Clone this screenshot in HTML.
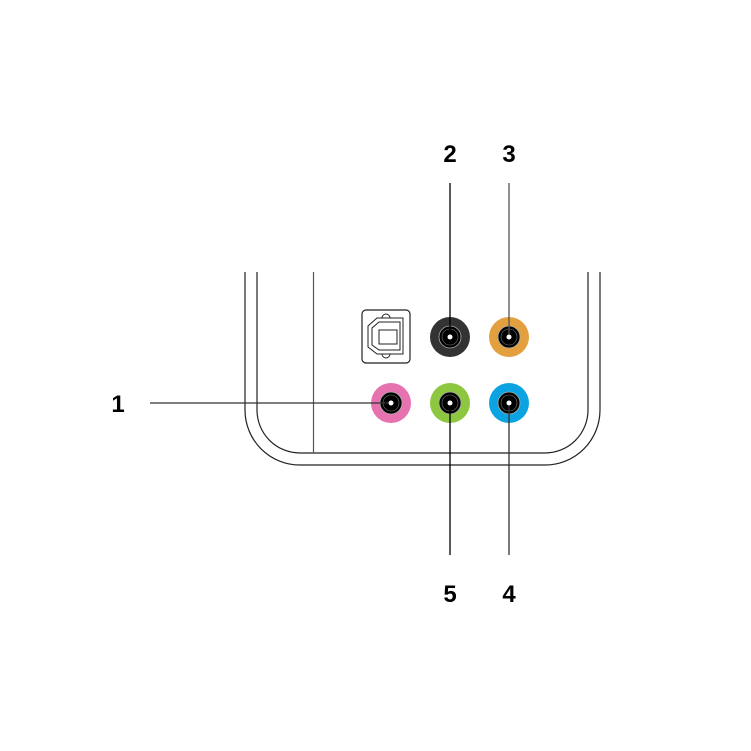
<!DOCTYPE html>
<html><head><style>html,body{margin:0;padding:0;background:#fff}svg{display:block}</style></head>
<body>
<svg width="751" height="751" viewBox="0 0 751 751" xmlns="http://www.w3.org/2000/svg">
<g fill="none" stroke="#222" stroke-width="1.2">
<path d="M245 272 V410 A55 55 0 0 0 300 465 H545 A55 55 0 0 0 600 410 V272"/>
<path d="M257 272 V410 A43 43 0 0 0 300 453 H545 A43 43 0 0 0 588 410 V272"/>
<line x1="313.5" y1="272" x2="313.5" y2="453" stroke="#555"/>
<rect x="362" y="310" width="48" height="53" rx="4"/>
<path d="M368 340 V326 L377 318 H403 V354 H377 L368 347 Z" stroke-width="1"/>
<path d="M372 342 V328 L379 322 H400 V350 H379 L372 345 Z" stroke-width="1"/>
<rect x="379" y="330" width="18" height="14" stroke-width="1"/>
<path d="M382 318 a4 4 0 0 1 8 0 M382 354 a4 4 0 0 0 8 0" stroke-width="1"/>
</g>
<g>
<circle cx="450" cy="337" r="20" fill="#333"/>
<circle cx="509" cy="337" r="20" fill="#e49f3e"/>
<circle cx="391" cy="403" r="20" fill="#e673b0"/>
<circle cx="450" cy="403" r="20" fill="#8dc63f"/>
<circle cx="509" cy="403" r="20" fill="#0ba3e2"/>
</g>
<g fill="#000" stroke="#aaa" stroke-width="0.8">
<circle cx="450" cy="337" r="11"/><circle cx="509" cy="337" r="11"/>
<circle cx="391" cy="403" r="11"/><circle cx="450" cy="403" r="11"/><circle cx="509" cy="403" r="11"/>
</g>
<g fill="none" stroke="#777" stroke-width="0.6">
<circle cx="450" cy="337" r="8"/><circle cx="509" cy="337" r="8"/>
<circle cx="391" cy="403" r="8"/><circle cx="450" cy="403" r="8"/><circle cx="509" cy="403" r="8"/>
</g>
<g stroke="#000" stroke-width="1.3">
<line x1="450" y1="183" x2="450" y2="334"/>
<line x1="509" y1="183" x2="509" y2="334" stroke="#555"/>
<line x1="150" y1="403" x2="388" y2="403" stroke="#333"/>
<line x1="450" y1="406" x2="450" y2="555"/>
<line x1="509" y1="406" x2="509" y2="555" stroke="#333"/>
</g>
<g fill="#fff">
<circle cx="450" cy="337" r="2.5"/><circle cx="509" cy="337" r="2.5"/>
<circle cx="391" cy="403" r="2.5"/><circle cx="450" cy="403" r="2.5"/><circle cx="509" cy="403" r="2.5"/>
</g>
<g font-family="Liberation Sans, sans-serif" font-weight="bold" font-size="24" text-anchor="middle" fill="#000">
<text x="450" y="162">2</text>
<text x="509" y="162">3</text>
<text x="118" y="412">1</text>
<text x="450" y="602">5</text>
<text x="509" y="602">4</text>
</g>
</svg>
</body></html>
